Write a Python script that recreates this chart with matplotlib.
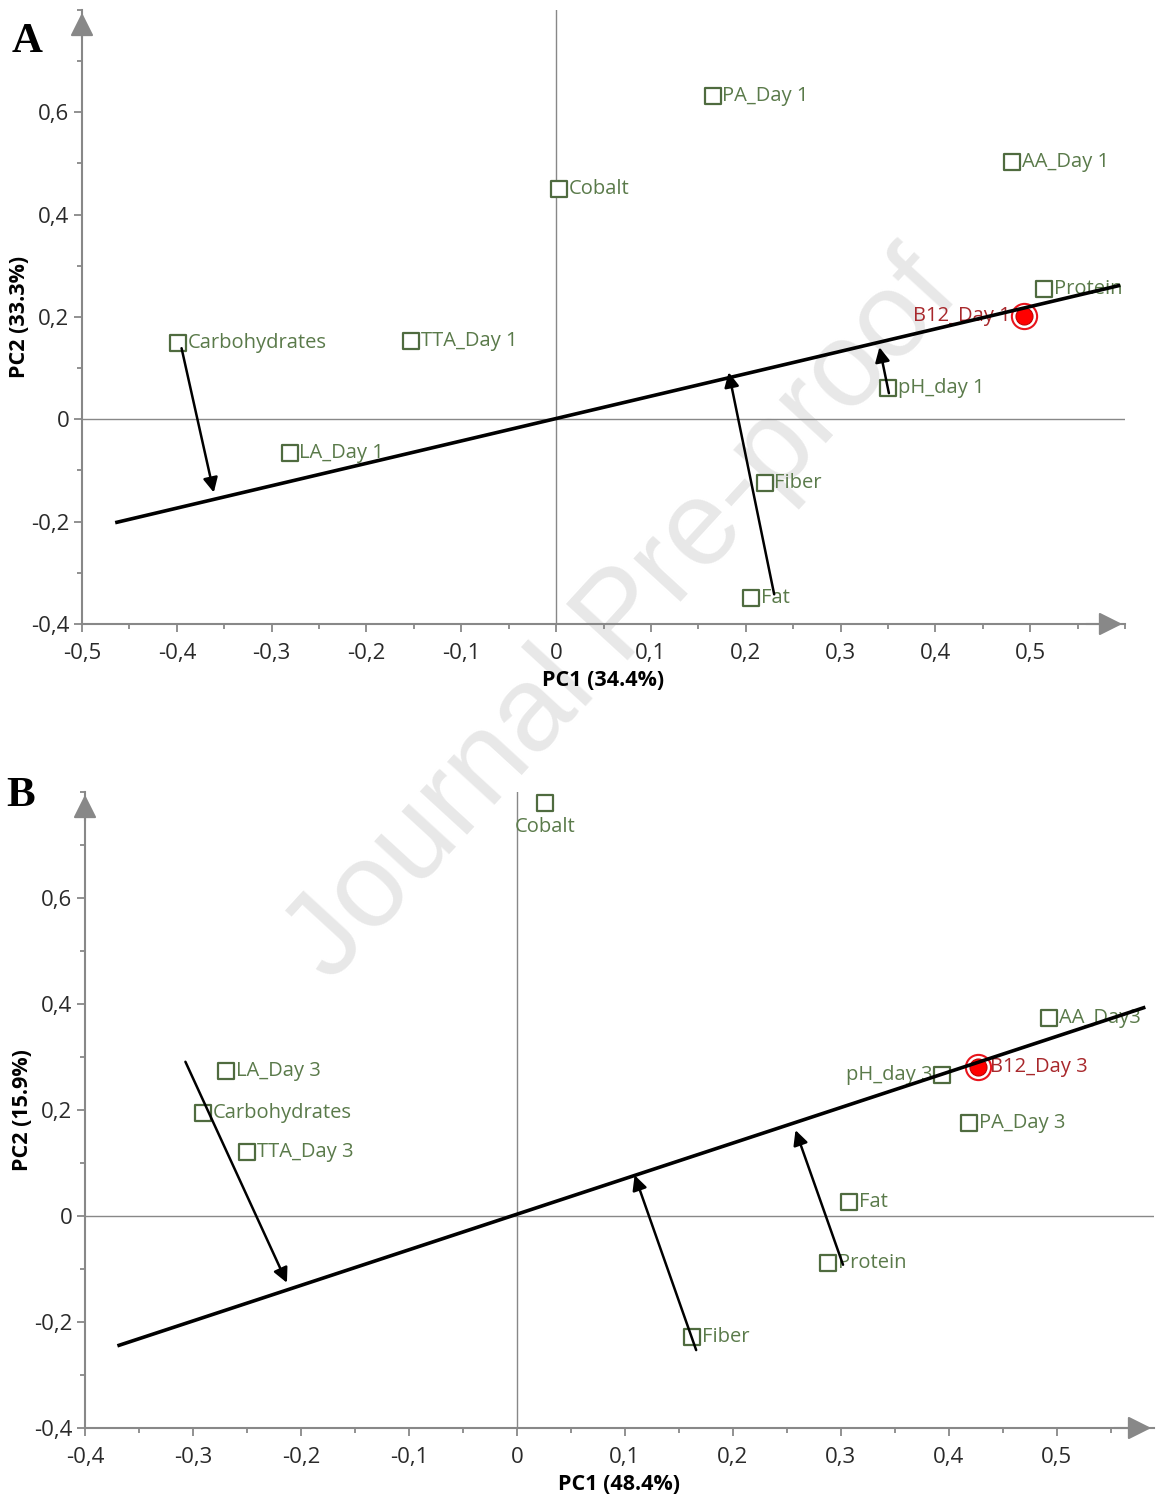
import numpy as np
import matplotlib.pyplot as plt
from matplotlib.ticker import MultipleLocator, FuncFormatter

plt.rcParams['font.family'] = ['Open Sans', 'DejaVu Sans']

# ---- Panel A data (PC1 / PC2 loadings, day 1) ----
a_labels = ['PA_Day 1', 'AA_Day 1', 'Cobalt', 'Protein', 'Carbohydrates', 'TTA_Day 1',
            'pH_day 1', 'LA_Day 1', 'Fiber', 'Fat']
a_pc1 = [0.165, 0.481, 0.003, 0.515, -0.399, -0.153, 0.350, -0.281, 0.220, 0.206]
a_pc2 = [0.632, 0.503, 0.450, 0.254, 0.149, 0.153, 0.061, -0.065, -0.125, -0.350]
a_target = ('B12_Day 1', 0.493, 0.202)
a_axis_line = ([-0.465, 0.595], [-0.202, 0.262])
a_arrows = [((-0.395, 0.139), (-0.361, -0.143)),
            ((0.230, -0.342), (0.182, 0.092)),
            ((0.351, 0.051), (0.341, 0.141))]

# ---- Panel B data (day 3) ----
b_labels = ['Cobalt', 'AA_Day3', 'LA_Day 3', 'pH_day 3', 'Carbohydrates', 'PA_Day 3',
            'TTA_Day 3', 'Fat', 'Protein', 'Fiber']
b_pc1 = [0.026, 0.493, -0.269, 0.394, -0.291, 0.419, -0.250, 0.308, 0.288, 0.162]
b_pc2 = [0.779, 0.374, 0.274, 0.266, 0.194, 0.175, 0.121, 0.026, -0.089, -0.228]
b_target = ('B12_Day 3', 0.427, 0.281)
b_axis_line = ([-0.370, 0.582], [-0.245, 0.394])
b_arrows = [((-0.307, 0.291), (-0.213, -0.126)),
            ((0.166, -0.253), (0.109, 0.077)),
            ((0.302, -0.092), (0.258, 0.162))]

GREEN_M = '#4f6b3f'
GREEN_T = '#5a7a4a'
GRAY = '#888888'


def fmt(v, pos):
    if abs(v) < 1e-9:
        return '0'
    return f'{v:.1f}'.replace('.', ',')


def draw_panel(ax, xlim, labels, pc1, pc2, target, line, arrows, left_labels, below_labels):
    ax.set_facecolor('none')
    ax.set_xlim(*xlim)
    ax.set_ylim(-0.4, 0.8)
    for s in ['top', 'right']:
        ax.spines[s].set_visible(False)
    for s in ['left', 'bottom']:
        ax.spines[s].set_color(GRAY)
        ax.spines[s].set_linewidth(1.5)
    ax.xaxis.set_minor_locator(MultipleLocator(0.05))
    ax.yaxis.set_minor_locator(MultipleLocator(0.1))
    ax.xaxis.set_major_formatter(FuncFormatter(fmt))
    ax.yaxis.set_major_formatter(FuncFormatter(fmt))
    ax.set_xticks([t for t in np.arange(-0.5, 0.56, 0.1) if xlim[0] - 1e-9 <= t <= 0.5 + 1e-9])
    ax.set_yticks([-0.4, -0.2, 0, 0.2, 0.4, 0.6])
    ax.tick_params(which='major', length=6, width=1.3, color=GRAY, labelsize=16,
                   labelcolor='#2a2a2a')
    ax.tick_params(which='minor', length=3.5, width=1.3, color=GRAY)
    ax.tick_params(axis='x', which='major', pad=8)
    ax.tick_params(axis='y', which='major', pad=3)
    # axis arrow heads
    ax.annotate('', xy=(1.0, 0), xytext=(0.96, 0), xycoords='axes fraction',
                arrowprops=dict(arrowstyle='-|>', color=GRAY, lw=1.5, mutation_scale=36))
    ax.annotate('', xy=(0, 1.0), xytext=(0, 0.95), xycoords='axes fraction',
                arrowprops=dict(arrowstyle='-|>', color=GRAY, lw=1.5, mutation_scale=36))
    ax.axhline(0, color=GRAY, lw=1.0, zorder=1)
    ax.axvline(0, color=GRAY, lw=1.0, zorder=1)

    ax.scatter(pc1, pc2, marker='s', s=130, facecolor='white', edgecolor=GREEN_M,
               linewidth=1.6, zorder=3)
    for lab, x, y in zip(labels, pc1, pc2):
        if lab in left_labels:
            ax.annotate(lab, (x, y), xytext=(-7, 0), textcoords='offset points',
                        ha='right', va='center', color=GREEN_T, fontsize=14.5, zorder=4)
        elif lab in below_labels:
            ax.annotate(lab, (x, y), xytext=(0, -10), textcoords='offset points',
                        ha='center', va='top', color=GREEN_T, fontsize=14.5, zorder=4)
        else:
            ax.annotate(lab, (x, y), xytext=(7, 0), textcoords='offset points',
                        ha='left', va='center', color=GREEN_T, fontsize=14.5, zorder=4)

    tname, tx, ty = target
    ax.scatter([tx], [ty], s=330, facecolor='white', edgecolor='#e8141c', linewidth=1.5, zorder=5)
    ax.scatter([tx], [ty], s=150, facecolor='#ff0000', edgecolor='#c00000', linewidth=0.8, zorder=6)
    ax.plot(line[0], line[1], color='black', lw=2.6, zorder=7, solid_capstyle='butt')
    for (x0, y0), (x1, y1) in arrows:
        ax.annotate('', xy=(x1, y1), xytext=(x0, y0),
                    arrowprops=dict(arrowstyle='-|>', color='black', lw=1.8,
                                    mutation_scale=22, shrinkA=0, shrinkB=0), zorder=8)
    return tname, tx, ty


fig = plt.figure(figsize=(11.6, 15.02), dpi=100)

# watermark
fig.text(0.537, 0.588, 'Journal Pre-proof', rotation=47.5, fontsize=87,
         family='Liberation Sans', color='#e8e8e8', ha='center', va='center',
         rotation_mode='anchor', zorder=-1)

axA = fig.add_axes([82 / 1160, 1 - 624 / 1502, 1043 / 1160, 614 / 1502])
nA, xA, yA = draw_panel(axA, (-0.5, 0.6), a_labels, a_pc1, a_pc2, a_target, a_axis_line,
                        a_arrows, left_labels=[], below_labels=[])
axA.annotate(nA, (xA, yA), xytext=(-9, 0), textcoords='offset points', ha='right',
             va='center', color='#a8282c', fontsize=14.5, zorder=4)
axA.set_xlabel('PC1 (34.4%)', fontsize=15.5, fontweight='bold', labelpad=4)
axA.set_ylabel('PC2 (33.3%)', fontsize=15.5, fontweight='bold', labelpad=1)

axB = fig.add_axes([85 / 1160, 1 - 1428 / 1502, 1069 / 1160, 636 / 1502])
nB, xB, yB = draw_panel(axB, (-0.4, 0.59), b_labels, b_pc1, b_pc2, b_target, b_axis_line,
                        b_arrows, left_labels=['pH_day 3'], below_labels=['Cobalt'])
axB.annotate(nB, (xB, yB), xytext=(9, 0), textcoords='offset points', ha='left',
             va='center', color='#a8282c', fontsize=14.5, zorder=4)
axB.set_xlabel('PC1 (48.4%)', fontsize=15.5, fontweight='bold', labelpad=4)
axB.set_ylabel('PC2 (15.9%)', fontsize=15.5, fontweight='bold', labelpad=1)

fig.text(12 / 1160, 1 - 42 / 1502, 'A', family='Liberation Serif', fontweight='bold',
         fontsize=31, va='center', ha='left')
fig.text(6 / 1160, 1 - 796 / 1502, 'B', family='Liberation Serif', fontweight='bold',
         fontsize=31, va='center', ha='left')

fig.savefig('out.png', dpi=100)
